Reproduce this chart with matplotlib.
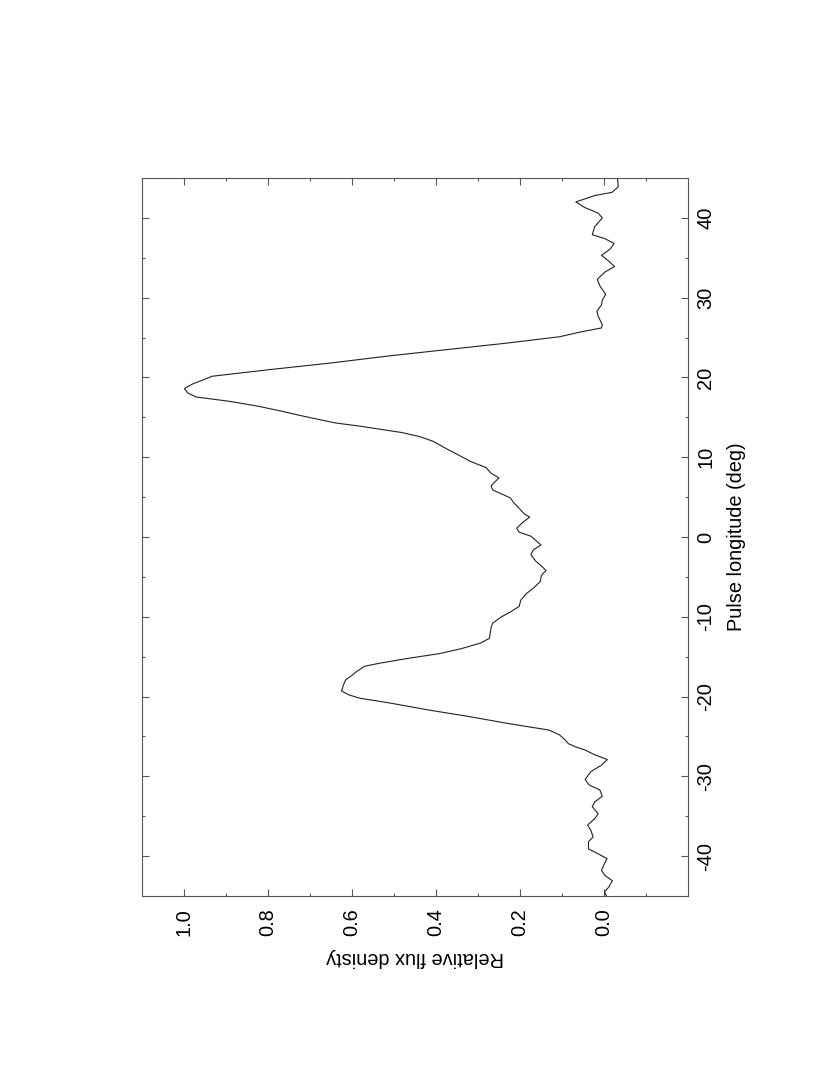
import numpy as np
from matplotlib import pyplot as plt

plt.rcParams['font.family'] = ['Liberation Sans', 'DejaVu Sans']

# pulse profile (longitude in deg, relative flux)
longitude = [-45.0, -44.5, -43.9, -43.1, -42.4, -41.8, -41.2, -40.3, -39.6, -39.1,
             -38.2, -37.6, -36.8, -36.1, -35.3, -34.7, -33.8, -33.2, -32.5, -31.7,
             -31.1, -30.4, -29.4, -28.6, -27.9, -27.3, -26.7, -26.3, -25.9, -25.4,
             -24.8, -24.2, -23.4, -22.5, -21.7, -20.8, -20.2, -19.8, -19.3, -18.5,
             -17.9, -17.3, -16.9, -16.2, -15.8, -15.2, -14.6, -14.0, -13.3, -12.7,
             -11.4, -10.8, -10.0, -9.4, -8.7, -7.9, -7.1, -6.4, -5.6, -4.8,
             -4.2, -3.5, -3.0, -2.2, -1.6, -1.0, -0.4, 0.1, 0.6, 1.1,
             1.8, 2.5, 2.9, 3.6, 4.3, 4.9, 5.9, 6.4, 6.9, 7.4,
             8.0, 8.7, 9.5, 10.1, 11.0, 12.0, 12.6, 13.1, 13.9, 14.3,
             14.75, 15.1, 15.75, 16.4, 17.0, 17.55, 18.05, 18.6, 19.2, 19.7,
             20.15, 21.0, 21.8, 22.7, 23.5, 24.3, 25.1, 25.7, 26.2, 26.6,
             27.7, 28.3, 29.1, 29.7, 30.4, 31.5, 32.3, 33.2, 33.9, 34.6,
             35.3, 36.1, 36.8, 37.4, 37.9, 38.9, 40.0, 40.6, 41.3, 42.0,
             42.8, 43.2, 43.9, 45.0]
flux = [-0.006, -0.001, -0.011, -0.020, -0.002, 0.006, 0.001, -0.007, 0.018, 0.037,
        0.037, 0.026, 0.031, 0.039, 0.022, 0.014, 0.028, 0.022, 0.004, 0.010,
        0.035, 0.045, 0.031, 0.006, -0.008, 0.022, 0.045, 0.068, 0.085, 0.093,
        0.106, 0.131, 0.226, 0.322, 0.416, 0.511, 0.582, 0.607, 0.625, 0.620,
        0.615, 0.599, 0.590, 0.570, 0.532, 0.465, 0.390, 0.340, 0.294, 0.273,
        0.269, 0.265, 0.244, 0.223, 0.202, 0.198, 0.185, 0.168, 0.152, 0.149,
        0.138, 0.152, 0.163, 0.174, 0.168, 0.150, 0.163, 0.174, 0.202, 0.208,
        0.194, 0.177, 0.190, 0.202, 0.215, 0.223, 0.265, 0.269, 0.260, 0.250,
        0.269, 0.281, 0.319, 0.340, 0.373, 0.407, 0.440, 0.482, 0.582, 0.640,
        0.680, 0.712, 0.766, 0.824, 0.891, 0.971, 0.991, 0.999, 0.979, 0.954,
        0.933, 0.793, 0.652, 0.512, 0.372, 0.232, 0.106, 0.056, 0.006, 0.004,
        0.014, 0.017, 0.006, 0.004, -0.004, 0.010, 0.016, -0.002, -0.025, -0.011,
        0.006, -0.015, -0.024, -0.002, 0.028, 0.022, 0.004, 0.014, 0.046, 0.067,
        0.022, -0.019, -0.034, -0.032]

flux_ticks = [0.0, 0.2, 0.4, 0.6, 0.8, 1.0]
flux_labels = ['0.0', '0.2', '0.4', '0.6', '0.8', '1.0']
lon_ticks = [-40, -30, -20, -10, 0, 10, 20, 30, 40]
lon_labels = ['-40', '-30', '-20', '-10', '0', '10', '20', '30', '40']

fs = 14.4
fig = plt.figure(figsize=(8.3, 10.75), dpi=100)
ax = fig.add_axes([142 / 830, 1 - 896 / 1075, 546 / 830, 718 / 1075])

# page is turned: longitude runs up, flux grows to the left
ax.plot(flux, longitude, color='#222222', lw=0.8)
ax.set_xlim(1.1, -0.2)
ax.set_ylim(-45, 45)

for s in ax.spines.values():
    s.set_color('#555555')
    s.set_linewidth(0.8)

ax.set_xticks(flux_ticks, flux_labels, rotation=90, fontsize=fs)
ax.set_xticks(np.arange(-0.1, 1.0, 0.2), minor=True)
ax.set_yticks(lon_ticks, lon_labels, rotation=90, va='center', fontsize=fs)
ax.set_yticks(np.arange(-35, 40, 10), minor=True)

ax.tick_params(which='both', direction='in', top=True, bottom=True,
               left=True, right=True, color='#555555', width=0.8)
ax.tick_params(which='major', length=5)
ax.tick_params(which='minor', length=2.5)
ax.tick_params(axis='x', pad=8.6)
ax.tick_params(axis='y', labelleft=False, labelright=True, pad=5.8)

ax.set_xlabel('Relative flux denisty', fontsize=fs, rotation=180,
              rotation_mode='anchor', ha='center', va='center')
ax.xaxis.set_label_coords(0.5, -(957 - 896) / 718)
ax.yaxis.set_label_position('right')
ax.set_ylabel('Pulse longitude (deg)', fontsize=fs, rotation=90,
              rotation_mode='anchor', ha='center', va='center')
ax.yaxis.set_label_coords((736 - 142) / 546, 0.5)

fig.savefig('out.png', dpi=100)
